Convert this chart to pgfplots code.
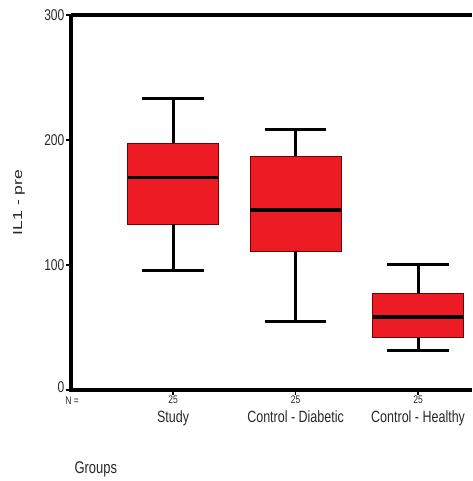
\documentclass[border=0pt]{standalone}
\usepackage{fontspec}
\setmainfont{Liberation Sans}
\usepackage{graphicx}
\usepackage{pgfplots}
\pgfplotsset{compat=1.18}
\definecolor{boxred}{RGB}{237,28,36}
\definecolor{txt}{RGB}{40,40,40}
\newcommand{\vs}[1]{\scalebox{1}[1.3]{#1}}
\newcommand{\hs}[1]{\scalebox{1.35}[1]{#1}}
\begin{document}
\begin{tikzpicture}
\path[use as bounding box] (-71pt,-91pt) rectangle (401pt,390pt);
\begin{axis}[
  at={(0pt,0pt)}, anchor=south west,
  scale only axis, width=401pt, height=375pt,
  xmin=0.167, xmax=3.44, ymin=0, ymax=300,
  axis line style={draw=none},
  clip=false,
  tick pos=left,
  tick align=outside,
  major tick length=4.5pt,
  tick style={black, line width=1.6pt},
  xtick={1,2,3},
  xticklabels={\vs{25},\vs{25},\vs{25}},
  xticklabel style={font=\fontsize{8.5}{9}\selectfont, text=txt, inner sep=1pt},
  extra x ticks={1,2,3},
  extra x tick labels={\vs{Study},\vs{Control - Diabetic},\vs{Control - Healthy}},
  extra x tick style={major tick length=0pt, xticklabel style={font=\fontsize{12.5}{13}\selectfont, text=txt, yshift=-20pt}},
  ytick={0,100,200,300},
  yticklabels={\vs{\raisebox{5pt}{0}},\vs{100},\vs{200},\vs{300}},
  yticklabel style={font=\fontsize{12}{13}\selectfont, text=txt, inner sep=2pt},
  ylabel={\hs{IL1 - pre}},
  ylabel style={font=\fontsize{13}{14}\selectfont, text=txt, at={([xshift=-52pt]rel axis cs:0,0.5)}, anchor=center},
  boxst/.style={fill=boxred, draw=black!55!red, line width=0.7pt},
  whisk/.style={draw=black, line width=3pt, mark=none},
  med/.style={draw=black, line width=3.5pt, mark=none},
]
% Study
\addplot[boxst] coordinates {(0.63,132.8) (1.37,132.8) (1.37,197.6) (0.63,197.6)} -- cycle;
\addplot[med] coordinates {(0.63,170) (1.37,170)};
\addplot[whisk] coordinates {(1,197.6) (1,232.8)};
\addplot[whisk] coordinates {(0.75,232.8) (1.25,232.8)};
\addplot[whisk] coordinates {(1,132.8) (1,95.2)};
\addplot[whisk] coordinates {(0.75,95.2) (1.25,95.2)};
% Control - Diabetic
\addplot[boxst] coordinates {(1.63,111) (2.37,111) (2.37,187) (1.63,187)} -- cycle;
\addplot[med] coordinates {(1.63,144) (2.37,144)};
\addplot[whisk] coordinates {(2,187) (2,208)};
\addplot[whisk] coordinates {(1.75,208) (2.25,208)};
\addplot[whisk] coordinates {(2,111) (2,54.4)};
\addplot[whisk] coordinates {(1.75,54.4) (2.25,54.4)};
% Control - Healthy
\addplot[boxst] coordinates {(2.63,42) (3.37,42) (3.37,77) (2.63,77)} -- cycle;
\addplot[med] coordinates {(2.63,58.4) (3.37,58.4)};
\addplot[whisk] coordinates {(3,77) (3,100)};
\addplot[whisk] coordinates {(2.75,100) (3.25,100)};
\addplot[whisk] coordinates {(3,42) (3,31.2)};
\addplot[whisk] coordinates {(2.75,31.2) (3.25,31.2)};
\draw[black, line width=3.3pt] (rel axis cs:0,1) -- (rel axis cs:0,0) -- (rel axis cs:1,0);
\draw[black, line width=3.3pt] (rel axis cs:0,1) -- (rel axis cs:1,1);
\node[font=\fontsize{8.5}{9}\selectfont, text=txt, yshift=-11pt, xshift=1pt] at (rel axis cs:0,0) {\vs{N =}};
\node[font=\fontsize{13}{14}\selectfont, text=txt, anchor=west, yshift=-79pt] at (rel axis cs:0,0) {\vs{Groups}};
\end{axis}
\end{tikzpicture}
\end{document}
